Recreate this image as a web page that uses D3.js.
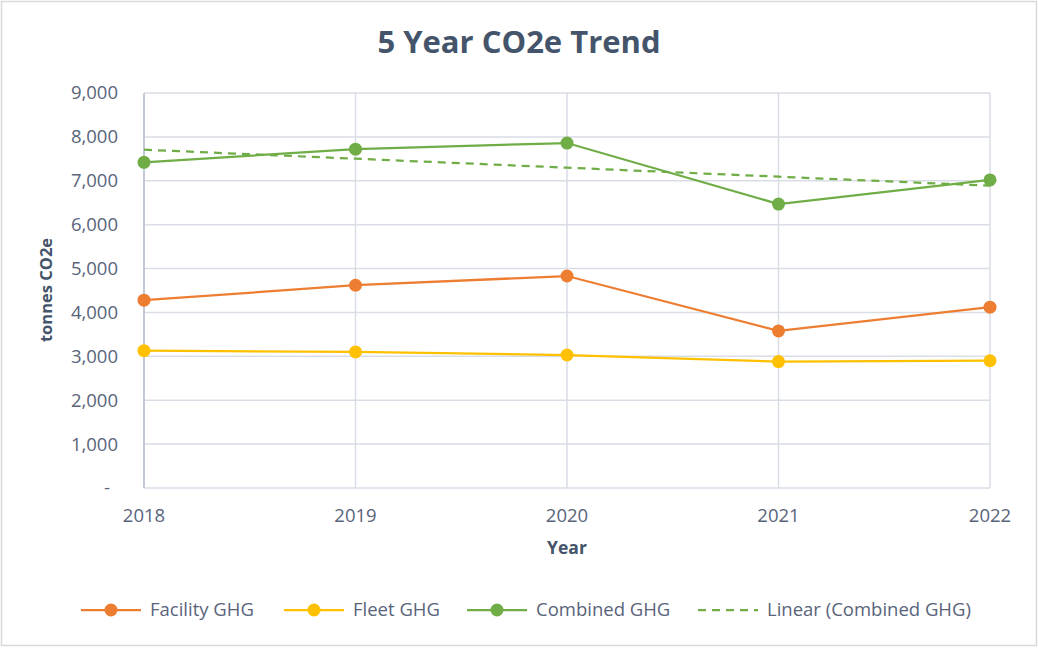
<!DOCTYPE html>
<html><head><meta charset="utf-8">
<script src="https://cdn.jsdelivr.net/npm/d3@7"></script>
<style>body{margin:0;background:#fff}svg{display:block;font-family:"Open Sans",sans-serif}</style>
</head><body><svg id="c" width="1038" height="648"></svg>
<script>
const years = ["2018","2019","2020","2021","2022"];
const facility = [4280, 4620, 4830, 3580, 4120];
const fleet = [3130, 3100, 3030, 2880, 2900];
const combined = [7420, 7720, 7860, 6470, 7020];
const yTicks = [0,1000,2000,3000,4000,5000,6000,7000,8000,9000];

const svg = d3.select("#c");
svg.append("rect").attr("x",1.5).attr("y",1.5).attr("width",1035).attr("height",644)
  .attr("fill","#fff").attr("stroke","#d9d9d9").attr("stroke-width",1.5);

const x = d3.scalePoint().domain(years).range([144,990]);
const y = d3.scaleLinear().domain([0,9000]).range([488,93]);

const grid="#d9dde6";
svg.append("g").selectAll("line").data(yTicks).join("line")
  .attr("x1",144).attr("x2",990).attr("y1",d=>y(d)).attr("y2",d=>y(d))
  .attr("stroke",grid).attr("stroke-width",1.5);
svg.append("g").selectAll("line").data(years).join("line")
  .attr("x1",d=>x(d)).attr("x2",d=>x(d)).attr("y1",y(9000)).attr("y2",y(0))
  .attr("stroke",grid).attr("stroke-width",1.5);
svg.append("line").attr("x1",144).attr("x2",144).attr("y1",y(9000)).attr("y2",y(0))
  .attr("stroke","#b8c0cf").attr("stroke-width",1.5);

const textCol="#59647a";
svg.append("g").selectAll("text").data(yTicks).join("text")
  .attr("x",d=>d===0?110:118).attr("y",d=>y(d)).attr("dy","0.35em")
  .attr("text-anchor","end").attr("font-size",18.5).attr("fill",textCol)
  .text(d=>d===0?"-":d3.format(",")(d));
svg.append("g").selectAll("text").data(years).join("text")
  .attr("x",d=>x(d)).attr("y",516).attr("dy","0.35em")
  .attr("text-anchor","middle").attr("font-size",18.5).attr("fill",textCol).text(d=>d);

svg.append("text").attr("x",567).attr("y",548).attr("dy","0.35em").attr("text-anchor","middle")
  .attr("font-size",17.5).attr("font-weight","bold").attr("fill","#44546a").text("Year");
svg.append("text").attr("transform","translate(46,290) rotate(-90)").attr("dy","0.35em")
  .attr("text-anchor","middle").attr("font-size",16.5).attr("font-weight","bold").attr("fill","#44546a").text("tonnes CO2e");
svg.append("text").attr("x",519).attr("y",42).attr("dy","0.35em").attr("text-anchor","middle")
  .attr("font-size",31).attr("font-weight","bold").attr("fill","#44546a").text("5 Year CO2e Trend");

// linear trend of combined
const n=combined.length, mx=d3.mean(d3.range(n)), my=d3.mean(combined);
const slope=d3.sum(combined,(v,i)=>(i-mx)*(v-my))/d3.sum(d3.range(n),i=>(i-mx)*(i-mx));
const trend=d3.range(n).map(i=>my+slope*(i-mx));

const line=d3.line().x((d,i)=>x(years[i])).y(d=>y(d));
svg.append("path").datum(trend).attr("d",line).attr("fill","none")
  .attr("stroke","#70ad47").attr("stroke-width",2.25).attr("stroke-dasharray","8,6");

const series=[
  {name:"Facility GHG",data:facility,color:"#ed7d31"},
  {name:"Fleet GHG",data:fleet,color:"#ffc000"},
  {name:"Combined GHG",data:combined,color:"#70ad47"}
];
series.forEach(s=>{
  svg.append("path").datum(s.data).attr("d",line).attr("fill","none")
    .attr("stroke",s.color).attr("stroke-width",2.25);
  svg.append("g").selectAll("circle").data(s.data).join("circle")
    .attr("cx",(d,i)=>x(years[i])).attr("cy",d=>y(d)).attr("r",6.5).attr("fill",s.color);
});

// legend
const leg=[
  {name:"Facility GHG",color:"#ed7d31",x0:81,dash:false},
  {name:"Fleet GHG",color:"#ffc000",x0:284,dash:false},
  {name:"Combined GHG",color:"#70ad47",x0:467,dash:false},
  {name:"Linear (Combined GHG)",color:"#70ad47",x0:698,dash:true}
];
const lg=svg.append("g").selectAll("g").data(leg).join("g").attr("transform",d=>`translate(${d.x0},610)`);
lg.append("line").attr("x1",0).attr("x2",60).attr("stroke",d=>d.color).attr("stroke-width",2.25)
  .attr("stroke-dasharray",d=>d.dash?"8,6":null);
lg.filter(d=>!d.dash).append("circle").attr("cx",30).attr("r",6.5).attr("fill",d=>d.color);
lg.append("text").attr("x",69).attr("dy","0.35em").attr("font-size",18.5).attr("fill",textCol).text(d=>d.name);
</script></body></html>
